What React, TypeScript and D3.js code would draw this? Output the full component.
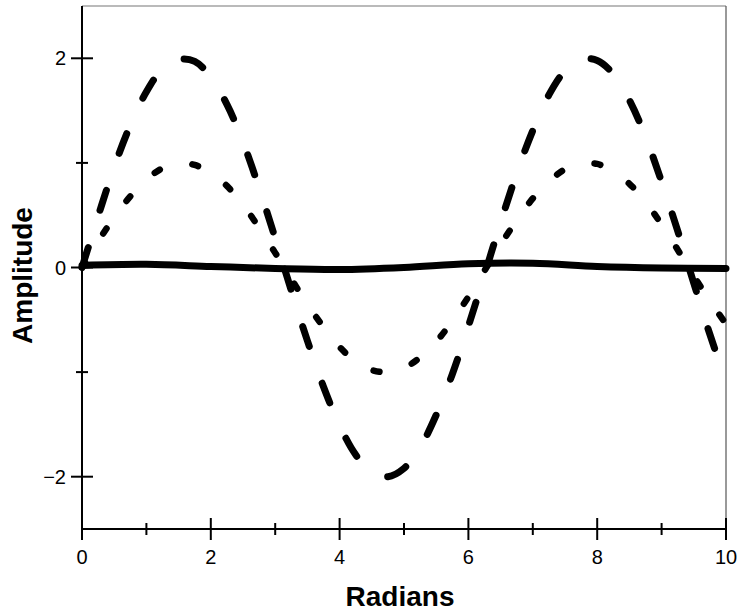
import React from "react";
import * as d3 from "d3";

// sampled radians
const radians = [
  0, 0.25, 0.5, 0.75, 1, 1.25, 1.5, 1.75, 2, 2.25, 2.5, 2.75, 3, 3.25, 3.5, 3.75, 4,
  4.25, 4.5, 4.75, 5, 5.25, 5.5, 5.75, 6, 6.25, 6.5, 6.75, 7, 7.25, 7.5, 7.75, 8,
  8.25, 8.5, 8.75, 9, 9.25, 9.5, 9.75, 10,
];

// dashed curve (large wave)
const bigWave = [
  0, 0.49, 0.96, 1.36, 1.68, 1.9, 1.99, 1.97, 1.82, 1.56, 1.2, 0.76, 0.28, -0.22,
  -0.7, -1.14, -1.51, -1.79, -1.96, -2.0, -1.92, -1.72, -1.41, -1.02, -0.56, -0.07,
  0.43, 0.9, 1.31, 1.65, 1.88, 1.99, 1.98, 1.85, 1.6, 1.25, 0.82, 0.35, -0.15,
  -0.64, -1.09,
];

// dotted curve (small wave)
const smallWave = [
  0, 0.25, 0.48, 0.68, 0.84, 0.95, 1.0, 0.98, 0.91, 0.78, 0.6, 0.38, 0.14, -0.11,
  -0.35, -0.57, -0.76, -0.9, -0.98, -1.0, -0.96, -0.86, -0.71, -0.51, -0.28, -0.03,
  0.22, 0.45, 0.66, 0.82, 0.94, 0.99, 0.99, 0.92, 0.8, 0.63, 0.41, 0.17, -0.08,
  -0.32, -0.54,
];

// solid, almost flat line
const flatX = [0, 1, 2, 3, 4, 5, 6, 7, 8, 9, 10];
const flatLine = [0.02, 0.03, 0.01, -0.01, -0.02, 0.0, 0.035, 0.04, 0.01, -0.005, -0.01];

const xMajor = [0, 2, 4, 6, 8, 10];
const xMinor = [1, 3, 5, 7, 9];
const yMajor = [-2, 0, 2];
const yMinor = [-1, 1];

export default function App() {
  const width = 738;
  const height = 611;
  const left = 82, right = 726, top = 6, bottom = 529;

  const x = d3.scaleLinear().domain([0, 10]).range([left, right]);
  const y = d3.scaleLinear().domain([-2.5, 2.5]).range([bottom, top]);

  const line = d3
    .line<[number, number]>()
    .x((d) => x(d[0]))
    .y((d) => y(d[1]))
    .curve(d3.curveCatmullRom.alpha(0.5));

  const big = line(radians.map((r, i) => [r, bigWave[i]] as [number, number]));
  const small = line(radians.map((r, i) => [r, smallWave[i]] as [number, number]));
  const flat = line(flatX.map((r, i) => [r, flatLine[i]] as [number, number]));

  const font = "'Liberation Sans', Arial, sans-serif";

  return (
    <svg
      width={width}
      height={height}
      style={{ position: "absolute", left: 0, top: 0, background: "#fff" }}
    >
      {/* frame */}
      <line x1={left} x2={right} y1={top} y2={top} stroke="#777" strokeWidth={1.2} />
      <line x1={right} x2={right} y1={top} y2={bottom} stroke="#555" strokeWidth={1.2} />
      <line x1={left} x2={left} y1={top} y2={bottom} stroke="#000" strokeWidth={2} />
      <line x1={left} x2={right} y1={bottom} y2={bottom} stroke="#000" strokeWidth={2} />

      {/* x ticks */}
      {xMajor.map((t) => (
        <g key={"xM" + t}>
          <line x1={x(t)} x2={x(t)} y1={bottom - 11} y2={bottom + 11} stroke="#000" strokeWidth={2} />
          <text
            x={x(t)}
            y={bottom + 35}
            textAnchor="middle"
            fontFamily={font}
            fontSize={20}
          >
            {t}
          </text>
        </g>
      ))}
      {xMinor.map((t) => (
        <line key={"xm" + t} x1={x(t)} x2={x(t)} y1={bottom - 6} y2={bottom + 6} stroke="#000" strokeWidth={2} />
      ))}

      {/* y ticks */}
      {yMajor.map((t) => (
        <g key={"yM" + t}>
          <line x1={left - 11} x2={left + 11} y1={y(t)} y2={y(t)} stroke="#000" strokeWidth={2} />
          <text
            x={left - 16}
            y={y(t) + 7}
            textAnchor="end"
            fontFamily={font}
            fontSize={20}
          >
            {t < 0 ? "\u2212" + Math.abs(t) : t}
          </text>
        </g>
      ))}
      {yMinor.map((t) => (
        <line key={"ym" + t} x1={left - 6} x2={left + 6} y1={y(t)} y2={y(t)} stroke="#000" strokeWidth={2} />
      ))}

      {/* curves */}
      <path
        d={flat ?? ""}
        fill="none"
        stroke="#000"
        strokeWidth={7}
        strokeLinecap="round"
      />
      <path
        d={small ?? ""}
        fill="none"
        stroke="#000"
        strokeWidth={6.5}
        strokeLinecap="round"
        strokeDasharray="6 34"
      />
      <path
        d={big ?? ""}
        fill="none"
        stroke="#000"
        strokeWidth={7}
        strokeLinecap="round"
        strokeDasharray="21 39"
      />

      {/* axis titles */}
      <text
        x={(left + right) / 2 - 4}
        y={606}
        textAnchor="middle"
        fontFamily={font}
        fontWeight="bold"
        fontSize={28}
      >
        Radians
      </text>
      <text
        transform={`translate(32, ${(top + bottom) / 2 + 8}) rotate(-90)`}
        textAnchor="middle"
        fontFamily={font}
        fontWeight="bold"
        fontSize={28}
      >
        Amplitude
      </text>
    </svg>
  );
}
